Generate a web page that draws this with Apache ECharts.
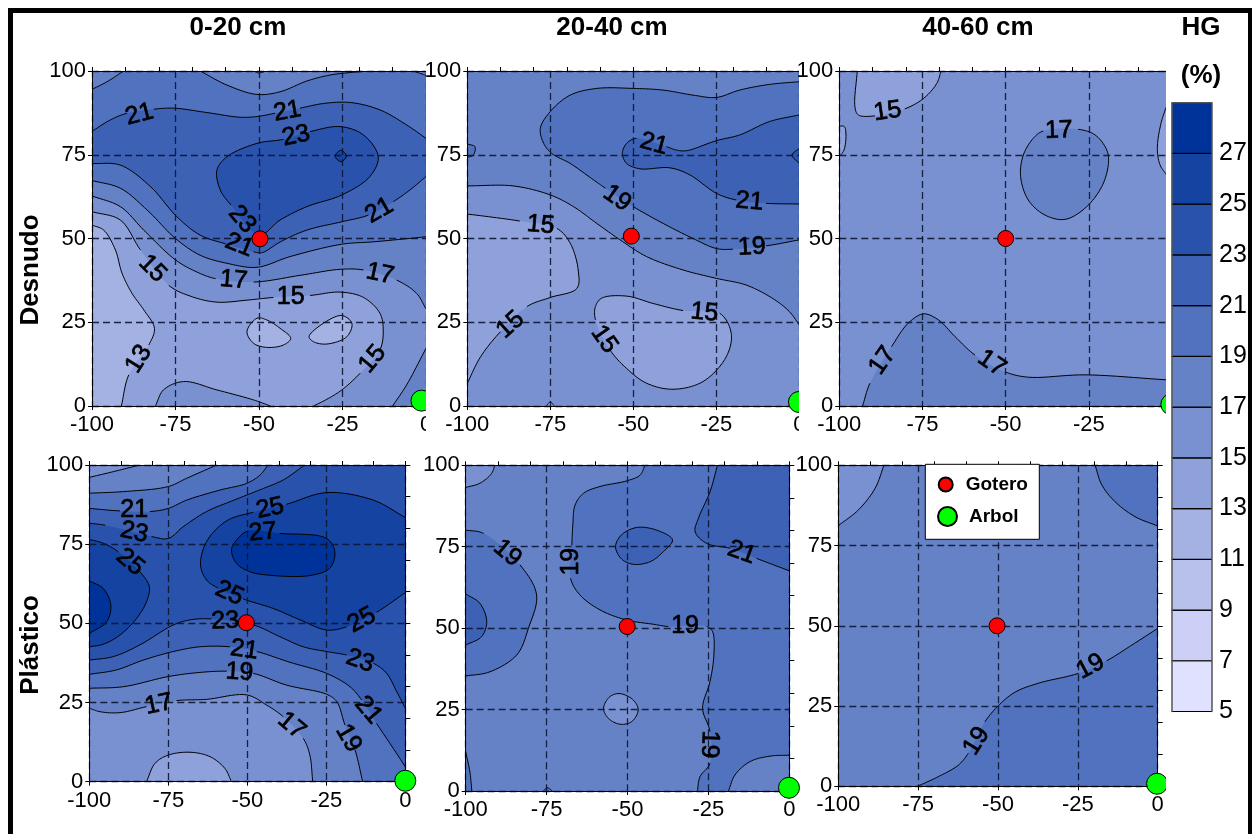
<!DOCTYPE html>
<html><head><meta charset="utf-8"><style>html,body{margin:0;padding:0;background:#fff}#c{width:1252px;height:834px}</style>
<script src="https://cdn.jsdelivr.net/npm/echarts@6/dist/echarts.min.js"></script></head>
<body><div id="c"></div>
<script>
// ---- Data (soil moisture contours, x = -100..0, y = 0..100) ----
const bandColors=['#e0e0ff','#ccd0f6','#b7c1ec','#a3b1e3','#8fa1da','#7a91d1','#6682c7','#5172be','#3d62b5','#2952ac','#1443a2','#003399'];
const bandEdges=[5,7,9,11,13,15,17,19,21,23,25,27,29];
const colorbarTicks=[5,7,9,11,13,15,17,19,21,23,25,27];
const columnTitles=['0-20 cm','20-40 cm','40-60 cm'];
const rowTitles=['Desnudo','Plástico'];
const xTicks=[-100,-75,-50,-25,0];
const goteroPoints=[[-49.7,49.9],[-50.6,50.7],[-50,50],[-50.3,50.2],[-50.1,50.5],[-50.3,50]];
const arbolPoints=[[-1.35,1.6],[-0.1,1.2],[-0.2,0.5],[0,0.3],[-0.1,1],[-0.2,0.8]];
const panelBase=[8,6,5,9,6,6];
// contour entries: [band above/inside, line points (null = label gap), closing corners, closed?]
const panel1Contours=[
[7,[[-100,82],[-94.5,85.4],[-89.5,87.4],null,[-81.5,88.6],[-75.5,88.9],[-65.6,87.6],[-55.6,86.2],[-50.6,86.4],[-45.2,87.4],null,[-37.7,88.9],[-30.7,90.3],[-22.7,90.6],[-13.8,88.4],[-5.8,83.9],[0,79.9]],[[0,100],[-100,100]]],
[7,[[-100,72.4],[-91.5,71.9],[-82.5,65.5],[-74.6,56.5],[-67.6,51],[-60,48.4],null,[-51.6,46],[-49,45.8],[-43.6,49],[-35.7,52.5],[-25.2,55],[-17.2,57],null,[-9.8,61],[-4.8,64.5],[0,68.5]],[[0,0],[-100,0]]],
[6,[[-100,67.3],[-91.5,65],[-83.5,58.5],[-75,50],[-67.6,45],[-59.6,42.6],[-50.6,41.4],[-40.7,44.6],[-25.2,48.3],[-15.8,49],[0,50.5]],[[0,0],[-100,0]]],
[5,[[-100,62.7],[-91.5,59.5],[-84.5,52.5],[-75,43.6],[-68.6,40],[-63,38],null,[-51.6,37],[-37.7,39],[-25.7,40.8],[-18.7,40.6],null,[-8.8,37.6],[-2.8,33.6],[0,29]],[[0,0],[-100,0]]],
[6,[[-10,0],[-5.8,6.3],[0,17.2]],[[0,0]]],
[4,[[-100,58],[-91.5,55.5],[-85.5,46.6],null,[-77,36],[-70.6,32.8],[-62.6,31],[-53.6,31.6],[-45.7,32.4],null,[-34.7,33],[-25.7,34],[-18.7,32.4],[-13.8,27.7],[-12.8,22.7],[-13.8,16.7],null,[-19.7,9.8],[-25.2,4.8],[-29.7,2],[-33.7,0]],[[-100,0]]],
[3,[[-100,54],[-96.5,52.5],[-93,46.6],[-91,39.6],[-88,33.6],[-84.5,28.7],[-81.3,23.2],[-83,18.2],null,[-89,9.3],[-91.2,0]],[[-100,0]]],
[5,[[-81,0],[-78.6,4.8],[-72.6,7.3],[-62.6,4.8],[-51.6,1.8],[-46.6,0]],[]],
[3,[[-53.6,22.2],[-50.6,26.2],[-47.7,25.7],[-43.7,23.2],[-40.5,20.2],[-42.7,18.2],[-47.7,17.5],[-51.6,18.7]],[],1],
[3,[[-35,20.7],[-30.7,24.7],[-25.2,27],[-22.2,24.7],[-23.7,20.7],[-29.7,18.5],[-33.7,19.2]],[],1],
[6,[[-100,94.5],[-95.5,96.8],[-90.5,100]],[[-100,100]]],
[6,[[-67.6,100],[-59.6,95.8],[-50.6,93],[-43.7,93.8],[-35.7,97],[-28.7,98.8],[-19.7,99.8],[-17,100]],[]],
[6,[[-3.8,100],[0,98.7]],[[0,100]]],
[5,[[-51.7,100],[-50,99.4],[-48,100]],[]],
[9,[[-62.6,70.4],[-59.6,74.4],[-50.6,78.4],[-42.7,79.6],null,[-34.7,81.9],[-25.7,83.4],[-18.7,80.9],[-14.3,74.4],[-16.8,68.5],[-25.2,63],[-35.7,59.5],[-43.7,55.5],[-50,51],null,[-58.4,60],[-61.6,64.5]],[],1],
[10,[[-27.2,74.6],[-25.5,76.3],[-23.8,74.6],[-25.5,72.9]],[],1]
];
const panel1Labels=[[-85.8,87,'21',15],[-41.5,87.9,'21',10],[-38.9,80.6,'23',12],[-55.1,55.7,'23',-50],[-55.9,48,'21',-22],[-14,58.3,'21',30],[-81.9,41,'15',-45],[-57.6,37.6,'17',-5],[-40.5,32.4,'15',0],[-13.8,39.4,'17',-12],[-86,14,'13',58],[-16,14,'15',50]];
const panel2Contours=[
[7,[[0,96.8],[-9,96],[-18,94.3],[-25,92.1],[-32,92.8],[-41,94.3],[-50,94.8],[-61,94.8],[-69,92.8],[-75,87.9],[-78,82.9],[-77,78.4],[-74.6,75.4],[-69,72.4],[-62,67.5],[-58.4,65],null,[-50,59.5],[-41,54.5],[-32,50],[-25,47],[-20,46.8],null,[-10,47.8],[0,49.6]],[]],
[8,[[0,86.9],[-9,84.9],[-18,80.9],[-25,79.2],[-34,76.2],[-37,76.4],[-40,77.4],null,[-49,79.9],[-52,78.4],[-53.3,75.4],[-52,72.4],[-48,70.8],[-39,71.1],[-33,69],[-25,63.5],[-19,61.5],null,[-10,60.5],[0,60.3]],[]],
[9,[[0,76.9],[-2.2,74.9],[0,72.4]],[]],
[7,[[-100,78.2],[-97.7,77.4],[-98.2,74.9],[-100,74.2]],[]],
[5,[[-100,65.7],[-86.2,65.7],[-75,63],[-68,59.5],[-61,54.5],[-54,49.6],[-46,44.6],[-35,40.6],[-25,38.1],[-16,36.1],[-8,32.1],[-3,28.2],[0,24.2]],[[0,0],[-100,0]]],
[4,[[-100,57.3],[-92,56.3],[-84.2,55.2],null,[-73,53],[-69,48.6],[-66.6,40.6],[-67,35.1],[-75,32.4],[-82,29.7],null,[-90,22.2],[-96,14.7],[-100,6.8]],[]],
[4,[[-61.4,29.7],[-59.5,32.2],[-52,32.8],[-44,30.6],[-35,28.5],null,[-24,27.7],[-20.5,21.7],[-22,14.7],[-29,7.3],[-38,5],[-46,6.8],[-52,11.2],[-57,16.7],null,[-61.4,25.7]],[],1],
[4,[[-76.2,0],[-75,1.2],[-73.8,0]],[]]
];
const panel2Labels=[[-43.8,78.2,'21',-15],[-54.9,62,'19',-35],[-15,61,'21',-5],[-14.3,47.4,'19',3],[-77.9,54,'15',-5],[-87,24.2,'15',42],[-28.6,27.9,'15',-5],[-58.8,19.9,'15',-55]];
const panel3Contours=[
[4,[[-94.6,100],[-95.3,89.3],[-94.3,86.9],[-89.3,86.6],null,[-80.3,88.7],[-74.7,91.8],[-70.7,96.3],[-69.4,100]],[]],
[4,[[-100,83.6],[-98.5,83.4],[-98,80.9],[-98.6,76.4],[-100,74.4]],[]],
[4,[[-1.5,89.9],[-3.3,84.4],[-4.4,76.9],[-3.6,72],[-1.5,68.8]],[]],
[6,[[-28.2,82.6],[-23.1,80.9],[-19.6,76.4],[-19.1,72.4],[-21.1,65.5],[-26.2,59],[-32.2,55.7],[-38.2,57],[-43.2,61.5],[-45.5,68.5],[-44.7,74.9],[-41.7,79.9],[-38.7,82.1],null],[],1],
[6,[[-93,0],[-90.8,6.8],null,[-84.3,17.7],[-79.3,24.7],[-74.7,27.5],[-70.2,25.7],[-65.2,20.7],[-59.2,15.2],null,[-50.2,10.2],[-43.2,8.6],[-26.2,9.3],[-1.5,7.8]],[[-1.5,0]]]
];
const panel3Labels=[[-85.5,87.9,'15',8],[-34,82.2,'17',2],[-87,13.5,'17',55],[-54.2,12.7,'17',-35]];
const panel4Contours=[
[10,[[0,83.4],[-10.1,88.9],[-24.9,91.3],[-37.6,87.6],null,[-48.1,85.1],[-56.5,82.4],[-62.9,75.8],[-64.8,68.4],[-62.9,63.7],[-59.2,61.1],null,[-51.3,57.7],[-41.8,54.7],[-33.3,51.1],[-24.9,47.9],[-18.6,48.9],null,[-9.1,53.5],[0,59.7]],[]],
[11,[[-55,73.2],[-53.4,76.3],[-49.7,79.2],null,[-39.7,78.4],[-24.9,76.8],[-22.3,72.6],[-23.9,67.4],[-30.2,65.1],[-41.8,65.1],[-49.2,66.3],[-53.4,68.9]],[],1],
[10,[[-100,76.5],[-95.6,75.3],[-90.8,72.6],null,[-84,66.3],[-81,61.6],[-81.9,56.8],[-85,51.6],[-90.3,46.3],[-95.6,43.4],[-100,42.6]],[]],
[11,[[-100,63.4],[-95.6,61],[-93.2,55.8],[-94.5,50.5],[-100,46.8]],[]],
[8,[[-100,81.6],[-95,81],null,[-80.3,77.4],[-75,76.8],[-70.3,80.5],[-62.9,85.3],[-55.5,88.4],[-50.2,90.5],[-44.9,92.6],[-38.6,95.3],[-31.8,100]],[[-100,100]]],
[7,[[-100,86.3],[-90.3,85.5],null,[-80.8,85.3],[-75,86.3],[-69.2,88.9],[-58.6,92.1],[-50.2,94.2],[-46,96.8],[-43.4,100]],[[-100,100]]],
[6,[[-100,91.1],[-89.2,91.6],[-75,93.2],[-69.2,95.8],[-59.7,100]],[[-100,100]]],
[5,[[-100,96.1],[-92.4,97.9],[-84,100]],[[-100,100]]],
[8,[[-100,38.4],[-92.4,39.5],[-84,43.2],[-73.4,49.5],[-68.1,51.1],[-61.3,51.4],null,[-48.1,49.5],[-39.7,45.8],[-32.3,42.6],[-24.9,41.1],[-18.6,40],null,[-10.1,37.4],[-5.9,34.2],[-2.7,28.4],[0,23.2]],[[0,0],[-100,0]]],
[7,[[-100,33.9],[-91.4,35.3],[-82.9,38.4],[-73.4,41.1],[-65,42.6],[-55.5,42.6],null,[-47,41.1],[-36.5,37.7],[-24.9,34.2],[-17.5,30],[-13.8,25.8],null,[-9.1,18.4],[-3.8,10.5],[0,4.7]],[[0,0],[-100,0]]],
[6,[[-100,29.5],[-89.2,30],[-75,33.2],[-65,34.5],[-56.5,34.9],null,[-48.1,34.2],[-37.6,30.5],[-24.9,27.6],[-21.7,25.3],[-19.1,17.9],null,[-15.9,10],[-13.5,0]],[[-100,0]]],
[5,[[-100,23.2],[-96.6,22.1],[-90.3,21.8],[-81.9,23.7],null,[-72.4,25.6],[-62.9,26],[-50.2,27.4],[-43.9,24.2],[-38.6,20.5],null,[-32.3,13.7],[-30.2,8.4],[-29.3,0]],[[-100,0]]],
[4,[[-81.9,0],[-79.2,5.8],[-75,8.4],[-68.1,9.3],[-61.8,7.9],[-57.1,4.2],[-55,0]],[]]
];
const panel4Labels=[[-85.8,85.6,'21',0],[-85.8,78.7,'23',-12],[-87.1,69.3,'25',-40],[-42.8,86.3,'25',12],[-45.1,78.7,'27',5],[-55.7,59.5,'25',-25],[-57,50.7,'23',2],[-51,41.6,'21',-8],[-52.5,34.5,'19',-3],[-14.3,38.1,'23',-20],[-13.8,51,'25',28],[-78,24.4,'17',12],[-36,17.7,'17',-40],[-18,13.7,'19',-60],[-11.7,22.6,'21',-50]];
const panel5Contours=[
[5,[[-100,93.2],[-95.6,94.5],[-92,97.5],[-91,100]],[[-100,100]]],
[7,[[-44.6,100],[-46.1,97],[-50.3,95.2],[-58.5,93.5],[-63.6,91.4],[-66.2,87.8],[-66.9,81.7],[-67.2,75.5],null,[-67.6,65.3],[-64.7,60.2],[-58.5,55.6],[-50.3,52.5],[-42,51.2],[-37.4,50.5],null,[-25.5,50.5],[-23.7,48.9],[-23.3,41.8],[-24.5,33.6],[-26.8,25.4],[-24.5,18.2],null,[-24.5,8.5],[-27.6,4.4],[-28.4,0]],[[0,0],[0,100]]],
[8,[[-22.2,100],[-24.5,91.9],[-28.1,83.7],[-29.1,79.6],[-25.5,76],[-18.3,74.5],null,[-10.1,71.4],[0,67.6]],[[0,100]]],
[8,[[-53.7,75],[-51.9,78.6],[-47.2,80.9],[-41,80.1],[-36.1,77.1],[-38.9,73.5],[-43,70.4],[-48.2,69.6],[-51.8,71.2]],[],1],
[7,[[-100,80.1],[-94.5,79.1],null,[-83.2,69.4],[-78.1,60.2],[-80.6,50],[-84.2,41.8],[-92.5,36.6],[-100,35.3]],[]],
[8,[[-100,60.5],[-95.6,57.6],[-93.5,52],[-95.1,47.4],[-100,44.8]],[]],
[5,[[-57.4,25.4],[-55.4,29],[-52.3,29.9],[-48.2,27.9],[-46.7,24.9],[-48.7,21.3],[-52.3,20.5],[-55.9,22.3]],[],1],
[6,[[-18.8,0],[-16.8,4.9],[-12.2,9],[-6,10.7],[0,11]],[[0,0]]],
[7,[[-100,12],[-98.7,5.9],[-98.1,0]],[[-100,0]]],
[7,[[-76,0],[-74.8,1],[-73.2,0]],[]]
];
const panel5Labels=[[-87.1,73,'19',-40],[-67.3,70.4,'19',90],[-32.2,50.5,'19',0],[-14.7,73.2,'21',-20],[-24.7,14.3,'19',-92]];
const panel6Contours=[
[5,[[-100,81.2],[-93.7,86.1],[-88.5,92.8],[-85.7,100]],[[-100,100]]],
[7,[[-19.6,100],[-17.5,93.9],[-13.4,88.7],[-7.1,84],[0,81.1]],[[0,100]]],
[7,[[-75.2,0],[-68.7,3],[-62.4,6.6],[-59.3,10.3],null,[-54.1,20.1],[-49.9,25.1],[-44.7,29.3],[-37.4,32.1],[-24.8,35.2],null,[-16,39.1],[-8.1,44],[0,49.2]],[[0,0]]]
];
const panel6Labels=[[-21,37.3,'19',28],[-56.7,14.1,'19',58]];

// ---- Layout ----
const FONT='"Liberation Sans",Arial,sans-serif';
const grids=[
 {left:92,top:71,width:334,height:335},{left:467.3,top:71,width:332,height:335},{left:839.3,top:71,width:332.7,height:335},
 {left:89.3,top:465,width:316,height:316.7},{left:465.7,top:465.3,width:323.6,height:325.7},{left:838.3,top:465.3,width:319.4,height:321}];
const allContours=[panel1Contours,panel2Contours,panel3Contours,panel4Contours,panel5Contours,panel6Contours];
const allLabels=[panel1Labels,panel2Labels,panel3Labels,panel4Labels,panel5Labels,panel6Labels];

function spline(pts,closed){ // smooth drawn line between the read points (centripetal); returns list of segments
 const n=pts.length,segs=[],m=closed?n:n-1;
 const dist=(a,b)=>Math.sqrt(Math.hypot(a[0]-b[0],a[1]-b[1]));
 for(let i=0;i<m;i++){
  const p1=pts[i],p2=pts[(i+1)%n];
  const p0=closed?pts[(i-1+n)%n]:pts[Math.max(i-1,0)];
  const p3=closed?pts[(i+2)%n]:pts[Math.min(i+2,n-1)];
  const d01=dist(p0,p1),d12=dist(p1,p2)||1e-6,d23=dist(p2,p3);
  const tan=(j)=>{
   const m1=d01>0?((p1[j]-p0[j])/d01-(p2[j]-p0[j])/(d01+d12)+(p2[j]-p1[j])/d12)*d12:p2[j]-p1[j];
   const m2=d23>0?((p2[j]-p1[j])/d12-(p3[j]-p1[j])/(d12+d23)+(p3[j]-p2[j])/d23)*d12:p2[j]-p1[j];
   return [m1,m2];};
  const tx=tan(0),ty=tan(1),s=[];
  for(let k=0;k<=10;k++){const t=k/10,t2=t*t,t3=t2*t;
   const h00=2*t3-3*t2+1,h10=t3-2*t2+t,h01=-2*t3+3*t2,h11=t3-t2;
   s.push([h00*p1[0]+h10*tx[0]+h01*p2[0]+h11*tx[1],h00*p1[1]+h10*ty[0]+h01*p2[1]+h11*ty[1]]);}
  segs.push(s);
 }
 return segs;
}
function contourItem(contour,api,idx){
 const band=contour[0],raw=contour[1],close=contour[2],closed=!!contour[3];
 const pts=[],gapAfter=[];
 raw.forEach(p=>{ if(p===null){gapAfter[pts.length-1]=true;} else pts.push(api.coord(p)); });
 const segs=spline(pts,closed);
 const fill=[];segs.forEach(s=>s.forEach(q=>fill.push(q)));
 close.forEach(c=>fill.push(api.coord(c)));
 const children=[{type:'polygon',shape:{points:fill},style:{fill:bandColors[band],stroke:null},z2:idx*2}];
 let cur=[];
 segs.forEach((s,i)=>{
  if(gapAfter[i]){ if(cur.length)children.push(line(cur,idx)); cur=[]; return; }
  cur=cur.length?cur.concat(s.slice(1)):s.slice();
 });
 if(cur.length)children.push(line(cur,idx));
 return {type:'group',children};
}
function line(points,idx){return {type:'polyline',shape:{points},style:{stroke:'#000',lineWidth:1,fill:null},z2:idx*2+1};}

const xAxis=[],yAxis=[],series=[];
const axisText={color:'#000',fontFamily:FONT,fontSize:22};
const dash={show:true,lineStyle:{type:[7,4],color:'#0b1530',width:1.3,opacity:.9}};
grids.forEach((g,i)=>{
 const z=10*i+12;
 xAxis.push({type:'value',gridIndex:i,min:-100,max:0,interval:25,position:'bottom',z,
  axisLine:{show:true,onZero:false,lineStyle:{color:'#000',width:1}},axisTick:{show:true,length:4,lineStyle:{color:'#000'}},
  axisLabel:Object.assign({margin:8,hideOverlap:false,showMinLabel:true,showMaxLabel:true},axisText),splitLine:dash});
 yAxis.push({type:'value',gridIndex:i,min:0,max:100,interval:25,position:'left',z,
  axisLine:{show:true,onZero:false,lineStyle:{color:'#000',width:1}},axisTick:{show:true,length:4,lineStyle:{color:'#000'}},
  axisLabel:Object.assign({margin:6,hideOverlap:false,showMinLabel:true,showMaxLabel:true},axisText),splitLine:dash});
});
grids.forEach((g,i)=>{
 const z=10*i+12;
 xAxis.push({type:'value',gridIndex:i,min:-100,max:0,interval:10,position:'top',z,
  axisLine:{show:true,onZero:false,lineStyle:{color:'#000',width:1}},axisTick:{show:true,length:4,lineStyle:{color:'#000'}},axisLabel:{show:false},splitLine:{show:false}});
 yAxis.push({type:'value',gridIndex:i,min:0,max:100,interval:10,position:'right',z,
  axisLine:{show:true,onZero:false,lineStyle:{color:'#000',width:1}},axisTick:{show:true,length:5,lineStyle:{color:'#000'}},axisLabel:{show:false},splitLine:{show:false}});
});
grids.forEach((g,i)=>{
 const contours=[[panelBase[i],[[-100,100],[0,100],[0,0],[-100,0]],[],1,'base']].concat(allContours[i]);
 series.push({type:'custom',xAxisIndex:i,yAxisIndex:i,z:10*i+11,clip:true,silent:true,animation:false,
  data:contours.map((c,k)=>[-50,50,k]),
  renderItem:(p,api)=>{const k=api.value(2),c=contours[k];
   if(c[4]==='base')return {type:'polygon',shape:{points:c[1].map(q=>api.coord(q))},style:{fill:bandColors[c[0]]},z2:0};
   return contourItem(c,api,k);}});
 const labels=allLabels[i];
 series.push({type:'custom',xAxisIndex:i,yAxisIndex:i,z:10*i+13,silent:true,animation:false,
  data:labels.map(l=>[l[0],l[1]]),
  renderItem:(p,api)=>{const l=labels[p.dataIndex],c=api.coord([l[0],l[1]]);
   return {type:'text',x:c[0],y:c[1],rotation:l[3]*Math.PI/180,
    style:{text:l[2],fontFamily:FONT,fontSize:25,fill:'#000',stroke:'#000',lineWidth:.7,align:'center',verticalAlign:'middle'}};}});
 series.push({type:'scatter',name:'Gotero',xAxisIndex:i,yAxisIndex:i,z:10*i+14,clip:false,silent:true,data:[goteroPoints[i]],symbol:'circle',symbolSize:16,
  itemStyle:{color:'#ff0000',borderColor:'#000',borderWidth:1,opacity:1}});
 series.push({type:'scatter',name:'Arbol',xAxisIndex:i,yAxisIndex:i,z:10*i+14,clip:false,silent:true,data:[arbolPoints[i]],symbol:'circle',symbolSize:21,
  itemStyle:{color:'#00ff00',borderColor:'#000',borderWidth:1,opacity:1}});
});
// colour bar
grids.push({left:1171.7,top:102.7,width:40.3,height:608.8});
const cbZ=90;
xAxis.push({type:'value',gridIndex:6,min:0,max:1,show:false});
yAxis.push({type:'value',gridIndex:6,min:5,max:29,position:'left',z:cbZ+1,interval:2,axisLine:{show:true,onZero:false,lineStyle:{color:'#555',width:1.5}},axisTick:{show:false},axisLabel:{show:false},splitLine:{show:false}});
yAxis.push({type:'value',gridIndex:6,min:5,max:29,position:'right',z:cbZ+1,axisLine:{show:true,onZero:false,lineStyle:{color:'#555',width:1.5}},axisTick:{show:false},
 axisLabel:{customValues:colorbarTicks,margin:7,color:'#000',fontFamily:FONT,fontSize:25,align:'left',formatter:v=>String(v)},splitLine:{show:false}});
series.push({type:'custom',xAxisIndex:12,yAxisIndex:12,z:cbZ,silent:true,animation:false,
 data:bandColors.map((c,i)=>[bandEdges[i],bandEdges[i+1]]),
 renderItem:(p,api)=>{const a=api.coord([0,api.value(0)]),b=api.coord([1,api.value(1)]);
  return {type:'group',children:[
   {type:'rect',shape:{x:a[0],y:b[1],width:b[0]-a[0],height:a[1]-b[1]},style:{fill:bandColors[p.dataIndex]}},
   {type:'line',shape:{x1:a[0],y1:a[1],x2:b[0],y2:a[1]},style:{stroke:'#000',lineWidth:1.2}},
   {type:'line',shape:{x1:a[0],y1:b[1],x2:b[0],y2:b[1]},style:{stroke:p.dataIndex===11?'#555':'#000',lineWidth:1.2}}]};}});

const titleStyle={fontFamily:FONT,fontSize:26,fontWeight:'bold',fill:'#000',align:'center',verticalAlign:'middle'};
const t=(text,x,y,rot)=>({type:'text',x,y,rotation:rot||0,z:99,style:Object.assign({text},titleStyle)});
const graphic=[
 {type:'rect',z:20,shape:{x:426,y:60,width:38,height:385},style:{fill:'#fff'}},
 {type:'rect',z:30,shape:{x:799,y:60,width:36,height:385},style:{fill:'#fff'}},
 {type:'rect',z:80,shape:{x:1166,y:60,width:82,height:774},style:{fill:'#fff'}},
 {type:'rect',z:96,shape:{x:925.3,y:464.3,width:114,height:75},style:{fill:'#fff',stroke:'#000',lineWidth:1}},
 {type:'rect',z:99,shape:{x:8,y:8,width:5,height:826},style:{fill:'#000'}},
 {type:'rect',z:99,shape:{x:8,y:8,width:1244,height:5},style:{fill:'#000'}},
 {type:'rect',z:99,shape:{x:1248,y:8,width:4,height:826},style:{fill:'#000'}},
 t(columnTitles[0],238,28),t(columnTitles[1],612,28),t(columnTitles[2],978,28),
 t('HG',1201,28),t('(%)',1201,76),
 t(rowTitles[0],31,270,Math.PI/2),t(rowTitles[1],31,645,Math.PI/2)
];
const legend=[
 {data:['Gotero'],left:937.7,top:475,padding:0,itemWidth:14,itemHeight:14,itemGap:0,icon:'circle',z:98,selectedMode:false,
  textStyle:{fontFamily:FONT,fontSize:19,fontWeight:'bold',color:'#000',padding:[4,0,0,8]}},
 {data:['Arbol'],left:937,top:506,padding:0,itemWidth:19,itemHeight:19,itemGap:0,icon:'circle',z:98,selectedMode:false,
  textStyle:{fontFamily:FONT,fontSize:19,fontWeight:'bold',color:'#000',padding:[3,0,0,7]}}
];
const chart=echarts.init(document.getElementById('c'),null,{renderer:'canvas'});
chart.setOption({animation:false,backgroundColor:'#fff',grid:grids,xAxis,yAxis,series,graphic,legend});
</script></body></html>
